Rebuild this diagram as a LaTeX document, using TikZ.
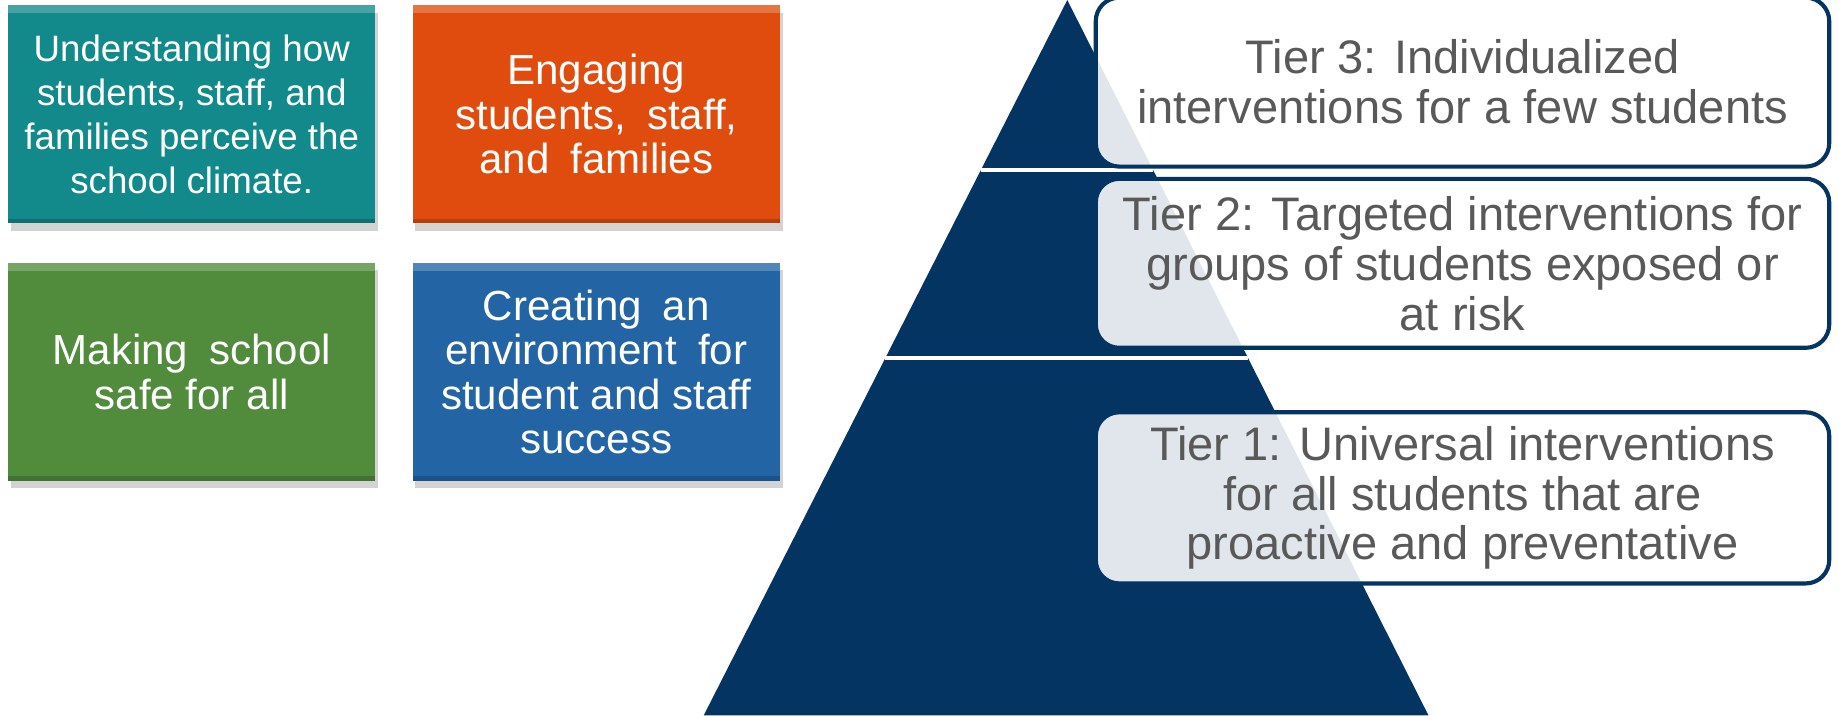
\documentclass[tikz,border=0pt]{standalone}
\usepackage{fontspec}
\setmainfont{Liberation Sans}
\usetikzlibrary{calc, shadows}
\definecolor{climteal}{RGB}{18, 137, 138}
\definecolor{engorange}{RGB}{224, 76, 14}
\definecolor{safegreen}{RGB}{80, 140, 60}
\definecolor{envblue}{RGB}{35, 100, 165}
\definecolor{pyrnavy}{RGB}{3, 52, 98}
\definecolor{tiergrey}{RGB}{89, 89, 89}

\begin{document}
\begin{tikzpicture}[x=0.01cm, y=-0.01cm,
  tile/.style={minimum width=3.13cm, minimum height=1.86cm, inner sep=0pt, align=center, text=white,
    font=\fontsize{10.2}{10.8}\selectfont,
    drop shadow={shadow xshift=0.6pt, shadow yshift=-1.8pt, opacity=0.35},
    path picture={
      \fill[white, opacity=0.22] (path picture bounding box.north west) rectangle ([yshift=-0.07cm]path picture bounding box.north east);
      \fill[black, opacity=0.18] (path picture bounding box.south west) rectangle ([yshift=0.04cm]path picture bounding box.south east);
    }},
  tierbox/.style={draw=pyrnavy, line width=1pt, rounded corners=0.2cm, fill=white, fill opacity=0.88, text opacity=1,
    text=tiergrey, minimum width=6.25cm, minimum height=1.44cm, align=center, font=\fontsize{11.4}{12.1}\selectfont}
]
  \useasboundingbox (0, 0) rectangle (1568, 609.7);

  % four focus areas
  \node[tile, fill=climteal, font=\fontsize{8.9}{10.6}\selectfont] (understand) at (163.5, 97.5) {
    Understanding how\\
    students, staff, and\\
    families perceive the\\
    school climate.
  };
  \node[tile, fill=engorange] (engage) at (508.5, 97.5) {
    Engaging\\
    students,\enspace staff,\\
    and\enspace families
  };
  \node[tile, fill=safegreen] (safe) at (163.5, 317) {
    Making\enspace school\\
    safe for all
  };
  \node[tile, fill=envblue] (environ) at (508.5, 317) {
    Creating\enspace an\\
    environment\enspace for\\
    student and staff\\
    success
  };

  % pyramid
  \coordinate (apex) at (910, 0);
  \coordinate (baseL) at (600, 610);
  \coordinate (baseR) at (1218, 610);
  \fill[pyrnavy] (apex) -- (baseR) -- (baseL) -- cycle;
  \draw[white, line width=1pt] ($(apex)!0.2377!(baseL)$) -- ($(apex)!0.2377!(baseR)$);
  \draw[white, line width=1pt] ($(apex)!0.5!(baseL)$) -- ($(apex)!0.5!(baseR)$);

  % tiers
  \node[tierbox] (tier3) at (1247, 70) {
    Tier 3: Individualized\\
    interventions for a few students
  };
  \node[tierbox] (tier2) at (1247, 224.5) {
    Tier 2: Targeted interventions for\\
    groups of students exposed or\\
    at risk
  };
  \node[tierbox] (tier1) at (1247, 424.5) {
    Tier 1: Universal interventions\\
    for all students that are\\
    proactive and preventative
  };
\end{tikzpicture}
\end{document}
